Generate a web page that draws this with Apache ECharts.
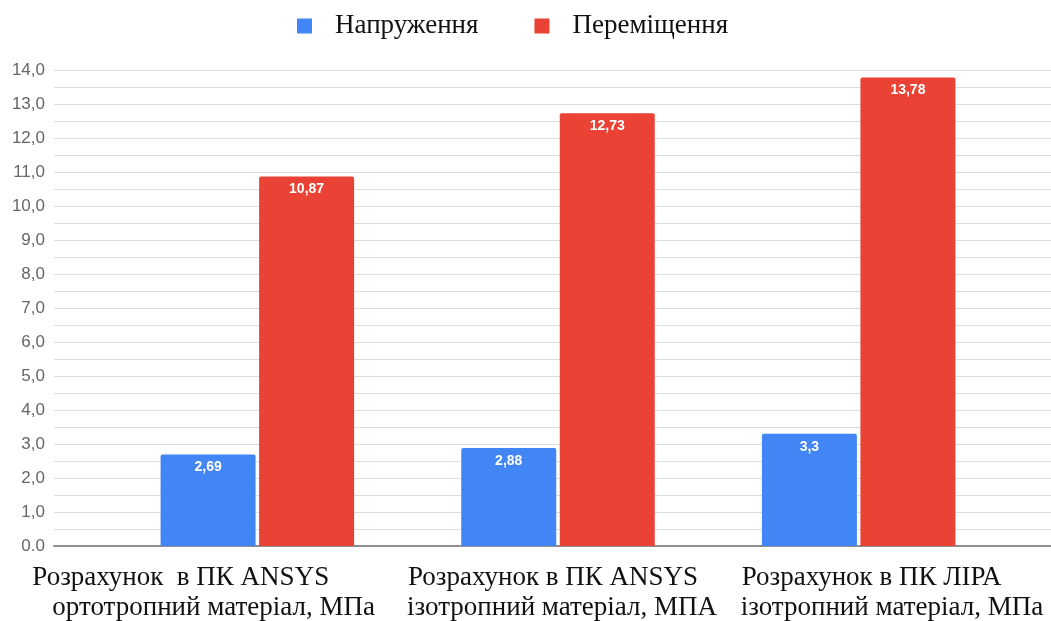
<!DOCTYPE html>
<html>
<head>
<meta charset="utf-8">
<script src="https://cdn.jsdelivr.net/npm/echarts@6/dist/echarts.min.js"></script>
<style>
  html, body { margin: 0; padding: 0; background: #fff; }
  #chart { width: 1051px; height: 621px; }
</style>
</head>
<body>
<div id="chart"></div>
<script>
// Category captions, two lines each
const categories = [
  ['Розрахунок  в ПК ANSYS', 'ортотропний матеріал, МПа'],
  ['Розрахунок в ПК ANSYS', 'ізотропний матеріал, МПА'],
  ['Розрахунок в ПК ЛІРА', 'ізотропний матеріал, МПа']
];
const seriesNames = ['Напруження', 'Переміщення'];
const stress = [2.69, 2.88, 3.3];
const displacement = [10.87, 12.73, 13.78];
const yTickLabels = ['0.0', '1,0', '2,0', '3,0', '4,0', '5,0', '6,0', '7,0',
                     '8,0', '9,0', '10,0', '11,0', '12,0', '13,0', '14,0'];

const serif = '"Liberation Serif", "Times New Roman", serif';
const sans = '"Liberation Sans", Arial, sans-serif';

// Per-caption left indents (line 1, line 2) inside the label block
const captionIndent = [[75, 95], [150, 149], [183, 182]];
const captionBase = { fontFamily: serif, fontSize: 27, lineHeight: 30, color: '#111', align: 'left' };
const captionRich = {};
captionIndent.forEach(function (pair, i) {
  captionRich['c' + i + 'a'] = Object.assign({}, captionBase, { padding: [0, 0, 0, pair[0]] });
  captionRich['c' + i + 'b'] = Object.assign({}, captionBase, { padding: [0, 0, 0, pair[1]] });
});

const fmtComma = function (v) { return String(v).replace('.', ','); };

const chart = echarts.init(document.getElementById('chart'), null, { renderer: 'canvas' });

chart.setOption({
  animation: false,
  backgroundColor: '#fff',
  color: ['#4285F4', '#EA4335'],
  legend: {
    data: seriesNames,
    left: 297,
    top: 11,
    padding: 0,
    itemWidth: 15,
    itemHeight: 15,
    itemGap: 56,
    icon: 'rect',
    textStyle: {
      fontFamily: serif,
      fontSize: 27,
      lineHeight: 30,
      color: '#111',
      padding: [0, 0, 0, 18]
    }
  },
  grid: [
    { left: 54, right: 0, top: 70, bottom: 75, containLabel: false, outerBoundsMode: 'none' },
    { left: 107, right: 42, top: 70, bottom: 75, containLabel: false, outerBoundsMode: 'none' }
  ],
  xAxis: [
    {
      gridIndex: 0,
      type: 'category',
      data: categories.map(function (c) { return c.join('\n'); }),
      axisLine: { show: true, lineStyle: { color: '#8f8f8f', width: 2 } },
      axisTick: { show: false },
      axisLabel: { show: false },
      splitLine: { show: false }
    },
    {
      gridIndex: 1,
      type: 'category',
      data: categories.map(function (c) { return c.join('\n'); }),
      axisLine: { show: false },
      axisTick: { show: false },
      splitLine: { show: false },
      axisLabel: {
        interval: 0,
        margin: 17,
        width: 600,
        align: 'center',
        fontFamily: serif,
        fontSize: 27,
        lineHeight: 30,
        color: '#111',
        formatter: function (value, index) {
          const lines = categories[index];
          return '{c' + index + 'a|' + lines[0] + '}\n{c' + index + 'b|' + lines[1] + '}';
        },
        rich: captionRich
      }
    }
  ],
  yAxis: [
    {
      gridIndex: 0,
      type: 'value',
      min: 0,
      max: 14,
      interval: 1,
      axisLine: { show: false },
      axisTick: { show: false },
      axisLabel: {
        margin: 9,
        fontFamily: sans,
        fontSize: 17,
        color: '#666',
        formatter: function (v) { return yTickLabels[Math.round(v)]; }
      },
      splitLine: { show: true, lineStyle: { color: '#dedede', width: 1 } },
      minorTick: { show: false, splitNumber: 2 },
      minorSplitLine: { show: true, lineStyle: { color: '#dedede', width: 1 } }
    },
    {
      gridIndex: 1,
      type: 'value',
      min: 0,
      max: 14,
      interval: 1,
      show: false,
      splitLine: { show: false }
    }
  ],
  series: [
    {
      name: seriesNames[0],
      type: 'bar',
      xAxisIndex: 1,
      yAxisIndex: 1,
      data: stress,
      barWidth: 95,
      barGap: '3.7%',
      itemStyle: { color: '#4285F4', borderRadius: [2, 2, 0, 0] },
      label: {
        show: true,
        position: 'insideTop',
        distance: 6,
        color: '#fff',
        fontFamily: sans,
        fontSize: 14,
        fontWeight: 'bold',
        formatter: function (p) { return fmtComma(p.value); }
      }
    },
    {
      name: seriesNames[1],
      type: 'bar',
      xAxisIndex: 1,
      yAxisIndex: 1,
      data: displacement,
      barWidth: 95,
      barGap: '3.7%',
      itemStyle: { color: '#EA4335', borderRadius: [2, 2, 0, 0] },
      label: {
        show: true,
        position: 'insideTop',
        distance: 6,
        color: '#fff',
        fontFamily: sans,
        fontSize: 14,
        fontWeight: 'bold',
        formatter: function (p) { return fmtComma(p.value); }
      }
    }
  ]
});
</script>
</body>
</html>
